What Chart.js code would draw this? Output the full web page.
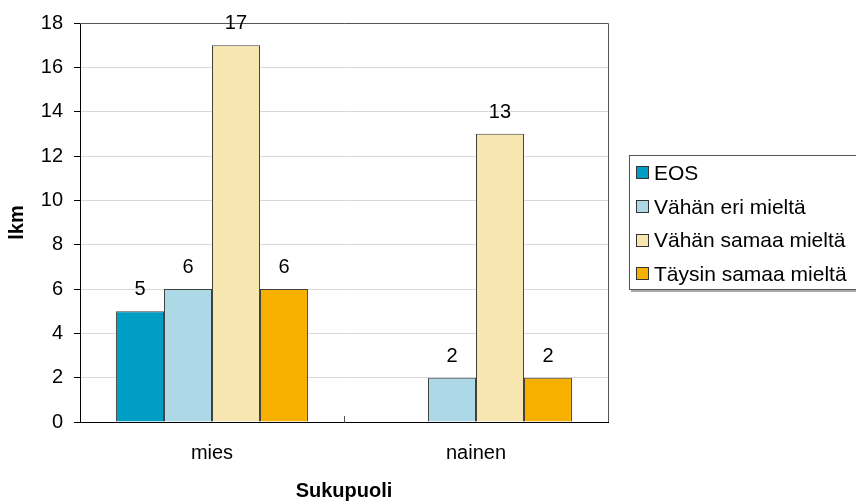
<!DOCTYPE html>
<html lang="fi">
<head>
  <meta charset="UTF-8">
  <title>Sukupuoli</title>
  <script src="https://cdn.jsdelivr.net/npm/chart.js"></script>
  <style>
    html, body { margin: 0; padding: 0; background: #fff; overflow: hidden; }
    #wrap { position: relative; width: 856px; height: 502px; }
    #legenda {
      position: absolute; left: 629px; top: 155px; width: 240px; height: 135px;
      border: 1px solid #555; background: #fff; box-sizing: border-box;
      box-shadow: 2px 2px 0 #aaa;
      font-family: "Liberation Sans", Arial, sans-serif; font-size: 21px; color: #000;
      padding-top: 0;
    }
    .item { display: flex; align-items: center; height: 33.7px; padding-left: 6px; }
    .cor { width: 13px; height: 13px; border: 1px solid #333; box-sizing: border-box; margin-right: 5px; }
  </style>
</head>
<body>
<div id="wrap">
  <canvas id="grafico" width="856" height="502"></canvas>
  <div id="legenda"></div>
</div>
<script>
// dados
const categorias = ['mies', 'nainen'];
const nomesSeries = ['EOS', 'Vähän eri mieltä', 'Vähän samaa mieltä', 'Täysin samaa mieltä'];
const eos = [5, null];
const vahanEri = [6, 2];
const vahanSamaa = [17, 13];
const taysinSamaa = [6, 2];
const cores = ['#009dc4', '#add8e6', '#f8e6b0', '#f8b000'];
const tituloY = 'lkm';
const tituloX = 'Sukupuoli';

const fonte = '"Liberation Sans", Arial, sans-serif';

const valores = [eos, vahanEri, vahanSamaa, taysinSamaa];

// moldura do plot + marca do meio + rotulos
const pluginExtra = {
  id: 'extra',
  afterDatasetsDraw(chart) {
    const ctx = chart.ctx;
    const a = chart.chartArea;
    ctx.save();
    ctx.strokeStyle = '#555';
    ctx.lineWidth = 1;
    ctx.beginPath();
    ctx.moveTo(a.left, a.top + 0.5);
    ctx.lineTo(a.right + 0.5, a.top + 0.5);
    ctx.lineTo(a.right + 0.5, a.bottom);
    ctx.stroke();

    // marca entre as categorias
    const xs = chart.scales.x;
    const meio = Math.round((xs.getPixelForTick(0) + xs.getPixelForTick(1)) / 2) + 0.5;
    ctx.strokeStyle = '#555';
    ctx.beginPath();
    ctx.moveTo(meio, a.bottom);
    ctx.lineTo(meio, a.bottom - 6);
    ctx.stroke();

    // valores em cima das barras
    ctx.fillStyle = '#000';
    ctx.font = '20px ' + fonte;
    ctx.textAlign = 'center';
    ctx.textBaseline = 'alphabetic';
    chart.data.datasets.forEach((ds, i) => {
      const meta = chart.getDatasetMeta(i);
      meta.data.forEach((bar, j) => {
        const v = ds.data[j];
        if (v === null || v === undefined) return;
        ctx.fillText(String(v), bar.x, bar.y - 16);
      });
    });
    ctx.restore();
  }
};

const grafico = new Chart(document.getElementById('grafico'), {
  type: 'bar',
  data: {
    labels: categorias,
    datasets: nomesSeries.map((nome, i) => ({
      label: nome,
      data: valores[i],
      backgroundColor: cores[i],
      borderColor: '#404040',
      borderWidth: 1,
      borderSkipped: 'start',
      categoryPercentage: 0.727,
      barPercentage: 1
    }))
  },
  options: {
    responsive: false,
    devicePixelRatio: 1,
    animation: false,
    layout: { padding: { top: 22, right: 248, bottom: 0, left: 0 } },
    plugins: {
      legend: { display: false },
      tooltip: { enabled: false }
    },
    scales: {
      x: {
        afterFit(scale) { scale.height = 80; },
        grid: { display: true, drawOnChartArea: false, drawTicks: false },
        border: { color: '#000', width: 1 },
        ticks: { color: '#000', padding: 19, font: { family: fonte, size: 20 } },
        title: {
          display: true, text: tituloX, color: '#000',
          font: { family: fonte, size: 20, weight: 'bold' },
          padding: { top: 0, bottom: -1 }
        }
      },
      y: {
        min: 0, max: 18,
        afterFit(scale) { scale.width = 80; },
        grid: { color: '#d9d9d9', tickColor: '#000', tickLength: 6, drawTicks: true },
        border: { color: '#000', width: 1 },
        ticks: { stepSize: 2, color: '#000', padding: 11, font: { family: fonte, size: 20 } },
        title: {
          display: true, text: tituloY, color: '#000',
          font: { family: fonte, size: 20, weight: 'bold' },
          padding: { top: 5, bottom: 0 }
        }
      }
    }
  },
  plugins: [pluginExtra]
});

// legenda em html
const legenda = document.getElementById('legenda');
grafico.data.datasets.forEach(ds => {
  const linha = document.createElement('div');
  linha.className = 'item';
  linha.innerHTML = `<span class="cor" style="background:${ds.backgroundColor}"></span><span>${ds.label}</span>`;
  legenda.appendChild(linha);
});
</script>
</body>
</html>
